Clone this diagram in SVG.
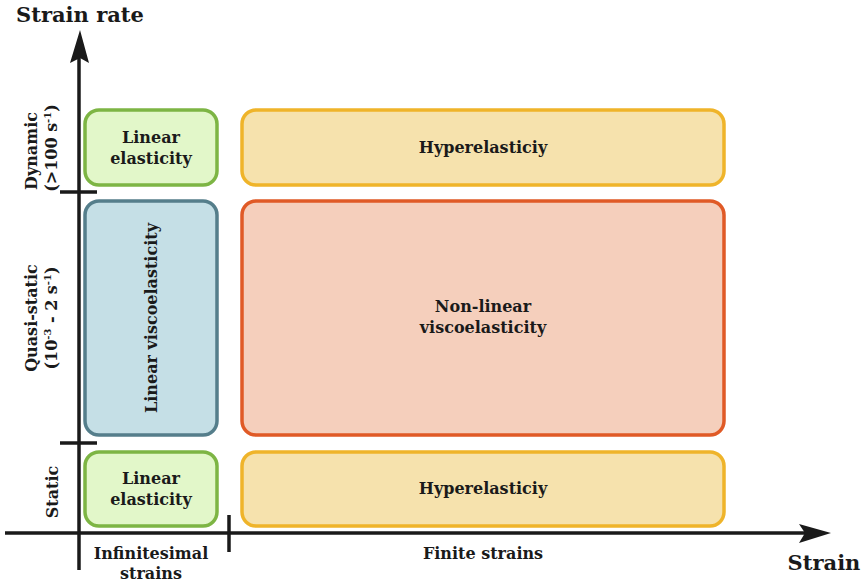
<svg xmlns="http://www.w3.org/2000/svg" width="863" height="583" viewBox="0 0 863 583">
<style>
text{font-family:"DejaVu Serif","Liberation Serif",serif;font-weight:bold;fill:#1a1a1a;text-anchor:middle}
.t{font-size:16px}
.ax{font-size:21px}
.box{stroke-width:3.5}
.green{fill:#e2f7c9;stroke:#7db544}
.yel{fill:#f6e2ad;stroke:#efb42a}
.blue{fill:#c5dfe6;stroke:#557e8b}
.red{fill:#f5cfbc;stroke:#e05a26}
.axis{stroke:#1a1a1a;stroke-width:3.5;fill:none}
</style>
<rect width="863" height="583" fill="#ffffff"/>
<g id="connectors">
<line class="axis" x1="79" y1="570" x2="79" y2="55"/>
<path d="M80,30 L89,63 L80,58 L70,63 Z" fill="#1a1a1a"/>
<line class="axis" x1="5" y1="533" x2="808" y2="533"/>
<path d="M831,533 L799,524 L805,533 L799,543 Z" fill="#1a1a1a"/>
<line class="axis" x1="60" y1="192" x2="97" y2="192"/>
<line class="axis" x1="60" y1="443" x2="97" y2="443"/>
<line class="axis" x1="229" y1="515" x2="229" y2="552"/>
</g>
<g id="axis-labels">
<text class="ax" x="80" y="22">Strain rate</text>
<text class="ax" x="824" y="570">Strain</text>
<text class="t" x="151" y="559">Infinitesimal</text>
<text class="t" x="151" y="579">strains</text>
<text class="t" x="483" y="559">Finite strains</text>
<text class="t" transform="translate(37,151) rotate(-90)">Dynamic</text>
<text class="t" transform="translate(57,148) rotate(-90)">(&gt;100  s<tspan dy="-6" font-size="10">-1</tspan><tspan dy="6">)</tspan></text>
<text class="t" transform="translate(37,318) rotate(-90)">Quasi-static</text>
<text class="t" transform="translate(57,318) rotate(-90)">(10<tspan dy="-6" font-size="10">-3</tspan><tspan dy="6"> - 2 s</tspan><tspan dy="-6" font-size="10">-1</tspan><tspan dy="6">)</tspan></text>
<text class="t" transform="translate(58,492) rotate(-90)">Static</text>
</g>
<g id="linear-elasticity-dynamic">
<rect class="box green" x="85" y="110" width="132" height="75" rx="14"/>
<text class="t" x="151" y="143">Linear</text>
<text class="t" x="151" y="164">elasticity</text>
</g>
<g id="hyperelasticity-dynamic">
<rect class="box yel" x="242" y="110" width="482" height="75" rx="14"/>
<text class="t" x="483" y="153">Hyperelasticiy</text>
</g>
<g id="linear-viscoelasticity">
<rect class="box blue" x="85" y="201" width="132" height="234" rx="14"/>
<text class="t" transform="translate(157,318) rotate(-90)">Linear viscoelasticity</text>
</g>
<g id="nonlinear-viscoelasticity">
<rect class="box red" x="242" y="201" width="482" height="234" rx="14"/>
<text class="t" x="483" y="312">Non-linear</text>
<text class="t" x="483" y="333">viscoelasticity</text>
</g>
<g id="linear-elasticity-static">
<rect class="box green" x="85" y="452" width="132" height="74" rx="14"/>
<text class="t" x="151" y="484">Linear</text>
<text class="t" x="151" y="505">elasticity</text>
</g>
<g id="hyperelasticity-static">
<rect class="box yel" x="242" y="452" width="482" height="74" rx="14"/>
<text class="t" x="483" y="494">Hyperelasticiy</text>
</g>
</svg>
